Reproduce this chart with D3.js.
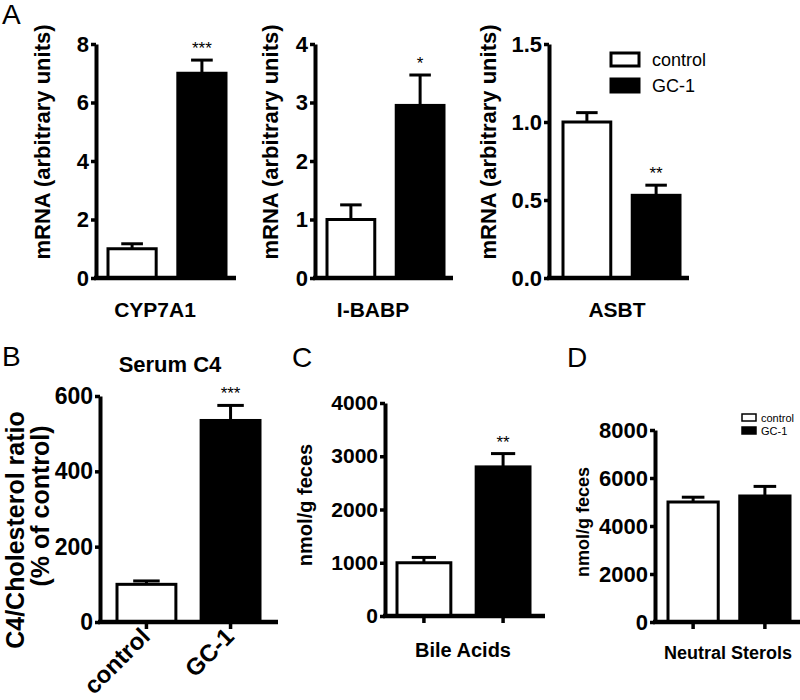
<!DOCTYPE html>
<html>
<head>
<meta charset="utf-8">
<script src="https://cdn.jsdelivr.net/npm/d3@7"></script>
<style>
  body { margin: 0; background: #fff; }
  svg, svg text { font-family: 'Liberation Sans', Arial, sans-serif; }
  .tick line { stroke: #000; stroke-width: 3.5; }
  .domain { stroke: #000; stroke-width: 4; }
</style>
</head>
<body>
<svg id="fig" width="800" height="700"></svg>
<script>
// groups and values
const groups = ['control', 'GC-1']

const mrnaGenes = ['CYP7A1', 'I-BABP', 'ASBT']
const mrnaMeans = [[1.0, 7.0], [1.0, 2.95], [1.0, 0.53]]
const mrnaSem = [[0.17, 0.45], [0.25, 0.52], [0.06, 0.065]]
const mrnaStars = ['***', '*', '**']
const mrnaTicks = [[0, 2, 4, 6, 8], [0, 1, 2, 3, 4], [0, 0.5, 1.0, 1.5]]

const c4Means = [100, 535]
const c4Sem = [9, 40]
const c4Ticks = [0, 200, 400, 600]

const bileMeans = [1000, 2800]
const bileSem = [100, 250]
const bileTicks = [0, 1000, 2000, 3000, 4000]

const sterolMeans = [5000, 5250]
const sterolSem = [200, 400]
const sterolTicks = [0, 2000, 4000, 6000, 8000]

const svg = d3.select('#fig')

const drawPanel = (p) => {

    const g = svg.append('g')

    const y = d3.scaleLinear()
        .domain([0, d3.max(p.ticks)])
        .range([p.y0, p.yTop])

    const x = d3.scaleBand()
        .domain(groups)
        .range([p.barL, p.barR])
        .paddingInner(p.pad)
        .paddingOuter(0)

    // y axis
    const yAx = g.append('g')
        .attr('transform', `translate(${p.axisX},0)`)
        .call(d3.axisLeft(y).tickValues(p.ticks).tickFormat(p.fmt).tickSize(5).tickSizeOuter(0).tickPadding(2))
    yAx.attr('font-family', null)
    yAx.selectAll('text')
        .style('font-size', p.tickFont + 'px')
        .style('font-weight', 'bold')
        .attr('fill', '#000')

    // bars
    g.selectAll('rect.bar')
        .data(p.means)
        .enter()
        .append('rect')
        .attr('class', 'bar')
        .attr('x', (d, i) => x(groups[i]))
        .attr('y', d => y(d))
        .attr('width', x.bandwidth())
        .attr('height', d => p.y0 - y(d))
        .attr('fill', (d, i) => i === 0 ? '#fff' : '#000')
        .attr('stroke', '#000')
        .attr('stroke-width', 3)

    // error bars (upper only)
    const capW = x.bandwidth() * 0.45
    p.means.forEach((m, i) => {
        const cx = x(groups[i]) + x.bandwidth() / 2
        g.append('line')
            .attr('x1', cx).attr('x2', cx)
            .attr('y1', y(m)).attr('y2', y(m + p.sems[i]))
            .attr('stroke', '#000').attr('stroke-width', 3)
        g.append('line')
            .attr('x1', cx - capW / 2).attr('x2', cx + capW / 2)
            .attr('y1', y(m + p.sems[i])).attr('y2', y(m + p.sems[i]))
            .attr('stroke', '#000').attr('stroke-width', 3)
    })

    if (p.star) {
        const cx = x(groups[1]) + x.bandwidth() / 2
        g.append('text')
            .attr('x', cx)
            .attr('y', y(p.means[1] + p.sems[1]) - 6)
            .attr('text-anchor', 'middle')
            .style('font-size', '17px')
            .text(p.star)
    }

    // x axis baseline
    g.append('line')
        .attr('x1', p.axisX - 2).attr('x2', p.axisEnd)
        .attr('y1', p.y0).attr('y2', p.y0)
        .attr('stroke', '#000').attr('stroke-width', 4.5)

    if (p.xTicks) {
        const xAx = g.append('g')
            .attr('transform', `translate(0,${p.y0})`)
            .call(d3.axisBottom(x).tickSize(7).tickSizeOuter(0).tickFormat(p.xTickLabels ? d => d : ''))
        xAx.attr('font-family', null)
        xAx.select('.domain').remove()
        if (p.xTickLabels) {
            xAx.selectAll('text')
                .style('font-size', '24px')
                .style('font-weight', 'bold')
                .attr('fill', '#000')
                .attr('text-anchor', 'end')
                .attr('x', 0).attr('y', 0).attr('dy', 0)
                .attr('transform', 'translate(5,16) rotate(-45)')
        }
    }

    if (p.xLabel) {
        g.append('text')
            .attr('x', p.xLabelX)
            .attr('y', p.xLabelY)
            .attr('text-anchor', 'middle')
            .style('font-size', p.xLabelFont + 'px')
            .style('font-weight', 'bold')
            .text(p.xLabel)
    }

    // y title (one or two lines)
    p.yTitle.forEach((t, k) => {
        g.append('text')
            .attr('transform', `translate(${p.yTitleX[k]},${p.yTitleY[k]}) rotate(-90)`)
            .attr('text-anchor', 'middle')
            .attr('dominant-baseline', 'central')
            .style('font-size', p.yTitleFont + 'px')
            .style('font-weight', 'bold')
            .text(t)
    })

    return { x, y }
}

// panel A: three mRNA graphs
const aLayout = [
    { axisX: 96, barL: 108, barR: 226, axisEnd: 236, yTitleX: 42, xLabelX: 155 },
    { axisX: 315, barL: 327, barR: 444, axisEnd: 453, yTitleX: 270, xLabelX: 373 },
    { axisX: 549, barL: 563, barR: 680, axisEnd: 689, yTitleX: 488, xLabelX: 617 }
]

mrnaGenes.forEach((gene, i) => {
    const L = aLayout[i]
    drawPanel({
        axisX: L.axisX, barL: L.barL, barR: L.barR, axisEnd: L.axisEnd, pad: 0.31,
        y0: 278, yTop: 44,
        ticks: mrnaTicks[i],
        fmt: i === 2 ? d3.format('.1f') : d3.format('d'),
        tickFont: 22,
        means: mrnaMeans[i], sems: mrnaSem[i], star: mrnaStars[i],
        xLabel: gene, xLabelX: L.xLabelX, xLabelY: 317, xLabelFont: 21,
        yTitle: ['mRNA (arbitrary units)'], yTitleX: [L.yTitleX], yTitleY: [142], yTitleFont: 22
    })
})

// panel B
drawPanel({
    axisX: 100, barL: 117, barR: 260, axisEnd: 278, pad: 0.3,
    y0: 622, yTop: 396,
    ticks: c4Ticks, fmt: d3.format('d'), tickFont: 23,
    means: c4Means, sems: c4Sem, star: '***',
    xTicks: true, xTickLabels: true,
    yTitle: ['C4/Cholesterol ratio', '(% of control)'], yTitleX: [15, 40], yTitleY: [530, 506], yTitleFont: 25
})
svg.append('text')
    .attr('x', 170).attr('y', 372)
    .attr('text-anchor', 'middle')
    .style('font-size', '22px').style('font-weight', 'bold')
    .text('Serum C4')

// panel C
drawPanel({
    axisX: 385, barL: 397, barR: 530, axisEnd: 545, pad: 0.32,
    y0: 616, yTop: 403,
    ticks: bileTicks, fmt: d3.format('d'), tickFont: 21,
    means: bileMeans, sems: bileSem, star: '**',
    xTicks: true,
    xLabel: 'Bile Acids', xLabelX: 463, xLabelY: 657, xLabelFont: 20,
    yTitle: ['nmol/g feces'], yTitleX: [305], yTitleY: [505], yTitleFont: 20
})

// panel D
drawPanel({
    axisX: 655, barL: 668, barR: 790, axisEnd: 800, pad: 0.3,
    y0: 622, yTop: 430,
    ticks: sterolTicks, fmt: d3.format('d'), tickFont: 22,
    means: sterolMeans, sems: sterolSem, star: '',
    xTicks: true,
    xLabel: 'Neutral Sterols', xLabelX: 728, xLabelY: 659, xLabelFont: 18,
    yTitle: ['nmol/g feces'], yTitleX: [583], yTitleY: [522], yTitleFont: 18
})

// legends
const legend = (x0, y0, w, h, gap, sw, font, tx) => {
    const lg = svg.append('g')
    groups.forEach((gr, i) => {
        lg.append('rect')
            .attr('x', x0).attr('y', y0 + i * gap)
            .attr('width', w).attr('height', h)
            .attr('fill', i === 0 ? '#fff' : '#000')
            .attr('stroke', '#000').attr('stroke-width', sw)
        lg.append('text')
            .attr('x', x0 + w + tx).attr('y', y0 + i * gap + h / 2)
            .attr('dominant-baseline', 'central')
            .style('font-size', font + 'px')
            .text(gr)
    })
}
legend(611, 53, 28, 13, 26, 3, 18, 13)
legend(742, 414, 14, 7, 13, 1.5, 11, 5)

// panel letters
const letters = [['A', 2, 24], ['B', 2, 366], ['C', 292, 367], ['D', 567, 367]]
svg.selectAll('text.letter')
    .data(letters)
    .enter()
    .append('text')
    .attr('class', 'letter')
    .attr('x', d => d[1]).attr('y', d => d[2])
    .style('font-size', '28px')
    .text(d => d[0])
</script>
</body>
</html>
